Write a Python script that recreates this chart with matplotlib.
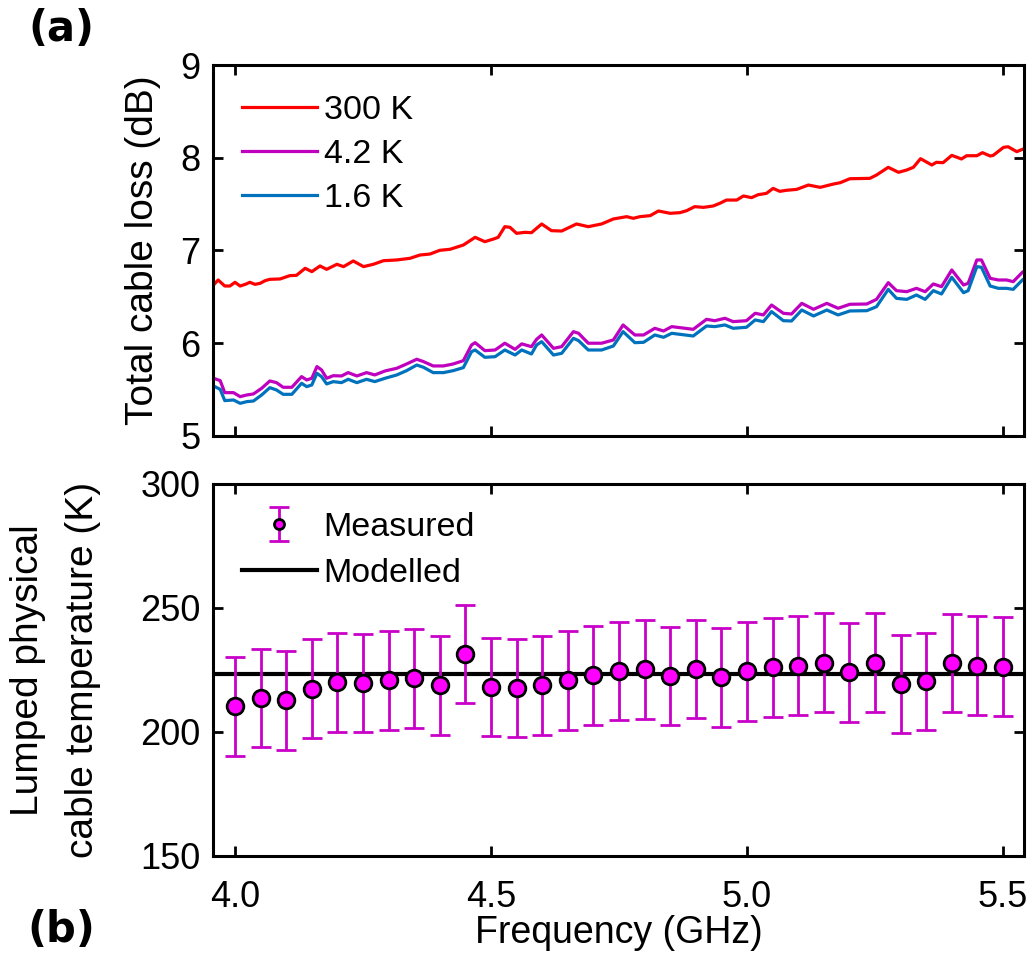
import matplotlib
matplotlib.use("Agg")
import matplotlib.pyplot as plt
import numpy as np

plt.rcParams["font.family"] = ["Liberation Sans", "DejaVu Sans"]

# ---- (a) total cable loss ----
freq_300k = [3.958, 3.967, 3.980, 3.990, 4.000, 4.010, 4.020, 4.029, 4.039, 4.049,
             4.059, 4.068, 4.088, 4.107, 4.120, 4.137, 4.150, 4.166, 4.179, 4.199,
             4.212, 4.231, 4.251, 4.270, 4.290, 4.316, 4.342, 4.361, 4.381, 4.400,
             4.420, 4.446, 4.469, 4.488, 4.505, 4.514, 4.527, 4.537, 4.550, 4.566,
             4.579, 4.599, 4.618, 4.638, 4.667, 4.690, 4.716, 4.739, 4.765, 4.778,
             4.791, 4.811, 4.827, 4.850, 4.869, 4.882, 4.898, 4.915, 4.934, 4.947,
             4.960, 4.980, 4.993, 5.009, 5.022, 5.038, 5.051, 5.064, 5.077, 5.097,
             5.120, 5.143, 5.169, 5.182, 5.201, 5.240, 5.253, 5.276, 5.296, 5.312,
             5.325, 5.339, 5.361, 5.370, 5.383, 5.400, 5.419, 5.429, 5.449, 5.460,
             5.475, 5.481, 5.501, 5.510, 5.527, 5.538]
loss_300k = [6.628, 6.682, 6.617, 6.617, 6.657, 6.617, 6.635, 6.657, 6.635, 6.646,
             6.675, 6.689, 6.693, 6.729, 6.732, 6.808, 6.772, 6.833, 6.797, 6.851,
             6.826, 6.887, 6.826, 6.851, 6.890, 6.898, 6.916, 6.951, 6.962, 7.002,
             7.013, 7.059, 7.142, 7.095, 7.124, 7.142, 7.257, 7.250, 7.185, 7.196,
             7.192, 7.286, 7.214, 7.210, 7.286, 7.257, 7.286, 7.340, 7.365, 7.347,
             7.365, 7.376, 7.426, 7.401, 7.408, 7.429, 7.473, 7.465, 7.480, 7.509,
             7.544, 7.544, 7.588, 7.570, 7.602, 7.616, 7.670, 7.638, 7.649, 7.659,
             7.706, 7.681, 7.717, 7.731, 7.774, 7.778, 7.814, 7.897, 7.843, 7.868,
             7.897, 7.990, 7.922, 7.951, 7.947, 8.026, 7.987, 8.022, 8.022, 8.055,
             8.019, 8.026, 8.112, 8.119, 8.066, 8.091]

freq_cold = [3.958, 3.971, 3.980, 3.997, 4.010, 4.023, 4.036, 4.052, 4.068, 4.081,
             4.094, 4.111, 4.130, 4.140, 4.150, 4.160, 4.169, 4.179, 4.192, 4.208,
             4.221, 4.238, 4.257, 4.273, 4.293, 4.316, 4.335, 4.355, 4.368, 4.387,
             4.407, 4.426, 4.446, 4.462, 4.469, 4.488, 4.508, 4.527, 4.547, 4.560,
             4.579, 4.589, 4.599, 4.622, 4.638, 4.661, 4.671, 4.690, 4.716, 4.739,
             4.758, 4.781, 4.798, 4.820, 4.837, 4.853, 4.869, 4.895, 4.921, 4.937,
             4.957, 4.973, 4.999, 5.016, 5.032, 5.048, 5.071, 5.087, 5.107, 5.130,
             5.156, 5.178, 5.201, 5.234, 5.253, 5.276, 5.292, 5.312, 5.331, 5.348,
             5.364, 5.380, 5.400, 5.423, 5.432, 5.449, 5.458, 5.475, 5.491, 5.507,
             5.520, 5.538]
loss_4k2 = [5.622, 5.597, 5.467, 5.467, 5.424, 5.442, 5.453, 5.514, 5.593, 5.575,
            5.525, 5.525, 5.640, 5.604, 5.622, 5.748, 5.712, 5.622, 5.650, 5.647,
            5.683, 5.647, 5.683, 5.658, 5.701, 5.730, 5.776, 5.827, 5.802, 5.755,
            5.755, 5.776, 5.812, 5.981, 6.006, 5.920, 5.927, 6.000, 5.934, 5.993,
            5.963, 6.042, 6.089, 5.945, 5.963, 6.125, 6.107, 6.000, 6.000, 6.035,
            6.197, 6.089, 6.089, 6.161, 6.132, 6.179, 6.168, 6.150, 6.258, 6.243,
            6.269, 6.233, 6.243, 6.323, 6.305, 6.412, 6.323, 6.315, 6.430, 6.366,
            6.430, 6.377, 6.420, 6.423, 6.473, 6.653, 6.567, 6.556, 6.592, 6.556,
            6.639, 6.610, 6.790, 6.628, 6.646, 6.898, 6.898, 6.700, 6.682, 6.682,
            6.664, 6.765]
loss_1k6 = [5.539, 5.503, 5.381, 5.388, 5.352, 5.370, 5.377, 5.442, 5.521, 5.496,
            5.449, 5.449, 5.568, 5.532, 5.550, 5.676, 5.640, 5.561, 5.586, 5.575,
            5.611, 5.575, 5.611, 5.586, 5.622, 5.658, 5.704, 5.765, 5.741, 5.683,
            5.683, 5.704, 5.737, 5.909, 5.927, 5.848, 5.855, 5.927, 5.873, 5.927,
            5.884, 5.981, 6.017, 5.873, 5.891, 6.053, 6.028, 5.927, 5.927, 5.970,
            6.125, 6.006, 6.010, 6.089, 6.064, 6.107, 6.096, 6.078, 6.186, 6.179,
            6.197, 6.161, 6.172, 6.251, 6.233, 6.341, 6.243, 6.240, 6.358, 6.294,
            6.358, 6.305, 6.348, 6.351, 6.394, 6.581, 6.484, 6.473, 6.520, 6.473,
            6.567, 6.531, 6.711, 6.545, 6.567, 6.826, 6.819, 6.617, 6.592, 6.592,
            6.581, 6.682]

# ---- (b) lumped physical cable temperature ----
freq_meas = [4.00, 4.05, 4.10, 4.15, 4.20, 4.25, 4.30, 4.35, 4.40, 4.45,
             4.50, 4.55, 4.60, 4.65, 4.70, 4.75, 4.80, 4.85, 4.90, 4.95,
             5.00, 5.05, 5.10, 5.15, 5.20, 5.25, 5.30, 5.35, 5.40, 5.45, 5.50]
temp_meas = [210.3, 213.7, 212.7, 217.4, 220.0, 219.7, 220.8, 221.7, 218.8, 231.5,
             218.1, 217.7, 218.8, 220.8, 222.8, 224.7, 225.2, 222.5, 225.5, 222.1,
             224.4, 226.1, 226.8, 228.0, 224.1, 228.0, 219.4, 220.4, 227.9, 226.7,
             226.4]
temp_err = [19.8, 19.9, 19.8, 19.9, 19.9, 19.8, 19.9, 19.9, 19.9, 19.8,
            19.9, 19.8, 19.9, 19.9, 19.9, 19.8, 19.8, 19.8, 19.8, 19.9,
            19.8, 19.9, 19.8, 19.9, 19.9, 19.9, 19.9, 19.7, 19.8, 19.9,
            19.9]
temp_model = 223.3

xlim = (3.957, 5.541)
xticks = [4.0, 4.5, 5.0, 5.5]
xticklabels = ["4.0", "4.5", "5.0", "5.5"]

fig = plt.figure(figsize=(10.32, 9.55), dpi=100)
ax1 = fig.add_axes([0.2064, 0.5435, 0.7858, 0.3884])
ax2 = fig.add_axes([0.2064, 0.1037, 0.7858, 0.3895])

for ax in (ax1, ax2):
    for s in ax.spines.values():
        s.set_linewidth(2.2)
    ax.tick_params(direction="in", top=True, right=True, length=7, width=2,
                   labelsize=26, pad=9)
    ax.tick_params(axis="x", pad=17)
    ax.set_xlim(*xlim)
    ax.set_xticks(xticks)

# Top panel
ax1.plot(freq_300k, loss_300k, color="#FF0000", lw=2.3, label="300 K")
ax1.plot(freq_cold, loss_4k2, color="#BF00BF", lw=2.3, label="4.2 K")
ax1.plot(freq_cold, loss_1k6, color="#0072BD", lw=2.3, label="1.6 K")
ax1.set_ylim(5, 9)
ax1.set_yticks([5, 6, 7, 8, 9])
ax1.set_xticklabels([])
ax1.set_ylabel("Total cable loss (dB)", fontsize=28, labelpad=14)
ax1.legend(loc="upper left", bbox_to_anchor=(0.019, 0.955), frameon=False,
           fontsize=24.5, handlelength=2.2, handletextpad=0.2, labelspacing=0.38,
           borderaxespad=0)

# Bottom panel
ax2.axhline(temp_model, color="black", lw=3, label="Modelled", zorder=2)
ax2.errorbar(freq_meas, temp_meas, yerr=temp_err, fmt="o", color="#C800C8",
             mfc="#FF00FF", mec="black", mew=2, ms=12, elinewidth=2, capsize=7,
             capthick=2, label="Measured", zorder=3)
ax2.set_ylim(150, 300)
ax2.set_yticks([150, 200, 250, 300])
ax2.set_xticklabels(xticklabels)
ax2.set_xlabel("Frequency (GHz)", fontsize=27, labelpad=0)
h, l = ax2.get_legend_handles_labels()
ax2.legend(h[::-1], l[::-1], loc="upper left", bbox_to_anchor=(0.019, 0.962),
           frameon=False, fontsize=24.5, handlelength=2.2, handletextpad=0.2,
           labelspacing=0.45, borderaxespad=0, markerscale=0.6)

fig.text(0.027, 0.298, "Lumped physical", rotation=90, fontsize=28,
         ha="center", va="center")
fig.text(0.080, 0.298, "cable temperature (K)", rotation=90, fontsize=28,
         ha="center", va="center")

fig.text(0.059, 0.970, "(a)", fontsize=30, fontweight="bold",
         family="DejaVu Sans", ha="center", va="center")
fig.text(0.059, 0.026, "(b)", fontsize=30, fontweight="bold",
         family="DejaVu Sans", ha="center", va="center")

fig.savefig("out.png", dpi=100)
